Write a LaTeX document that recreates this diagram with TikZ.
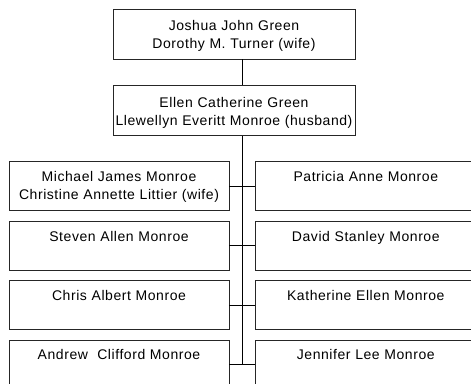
\documentclass[tikz,border=0pt]{standalone}
\usepackage{fontspec}
\setmainfont[LetterSpace=4]{Liberation Sans}
\usetikzlibrary{positioning}

\begin{document}
\begin{tikzpicture}[x=1pt,y=-1pt]
      \tikzstyle{fam} = [draw=black!85, line width=0.8pt, inner
      sep=0pt, align=center, font=\fontsize{14}{18}\selectfont]
      \tikzstyle{pbox} = [fam, text width=242pt, text height=21.5pt,
      text depth=28.5pt] \tikzstyle{kidbox} = [fam, text width=220pt,
      text height=20pt, text depth=29pt]
      \useasboundingbox (0,0) rectangle (471,383);
      \clip (0,0) rectangle (471,383);
      % parents
      \node[pbox] (a) at (234,34) {Joshua John Green\\Dorothy M. Turner (wife)};
      \node[pbox,below=26pt of a] (b) {Ellen Catherine Green\\Llewellyn
        Everitt Monroe (husband)};
      % children, left column
      \node[kidbox] (l1) at (119,186.2) {Michael James Monroe\\Christine
        Annette Littier (wife)};
      \node[kidbox,below=9.6pt of l1] (l2) {Steven Allen Monroe};
      \node[kidbox,below=9.6pt of l2] (l3) {Chris Albert Monroe};
      \node[kidbox,below=9.6pt of l3] (l4) {Andrew~ Clifford Monroe};
      % children, right column
      \node[kidbox,right=26pt of l1] (r1) {Patricia Anne Monroe};
      \node[kidbox,right=26pt of l2] (r2) {David Stanley Monroe};
      \node[kidbox,right=26pt of l3] (r3) {Katherine Ellen Monroe};
      \node[kidbox,right=26pt of l4] (r4) {Jennifer Lee Monroe};
      % lines
      \coordinate (t) at (242,0);
      \draw[line width=0.8pt] (a.south -| t) -- (b.north -| t);
      \draw[line width=0.8pt] (b.south -| t) -- (l4.east -| t);
      \foreach \i in {1,...,4}
        \draw[line width=0.8pt] (l\i.east) -- (r\i.west);
    \end{tikzpicture}
\end{document}
